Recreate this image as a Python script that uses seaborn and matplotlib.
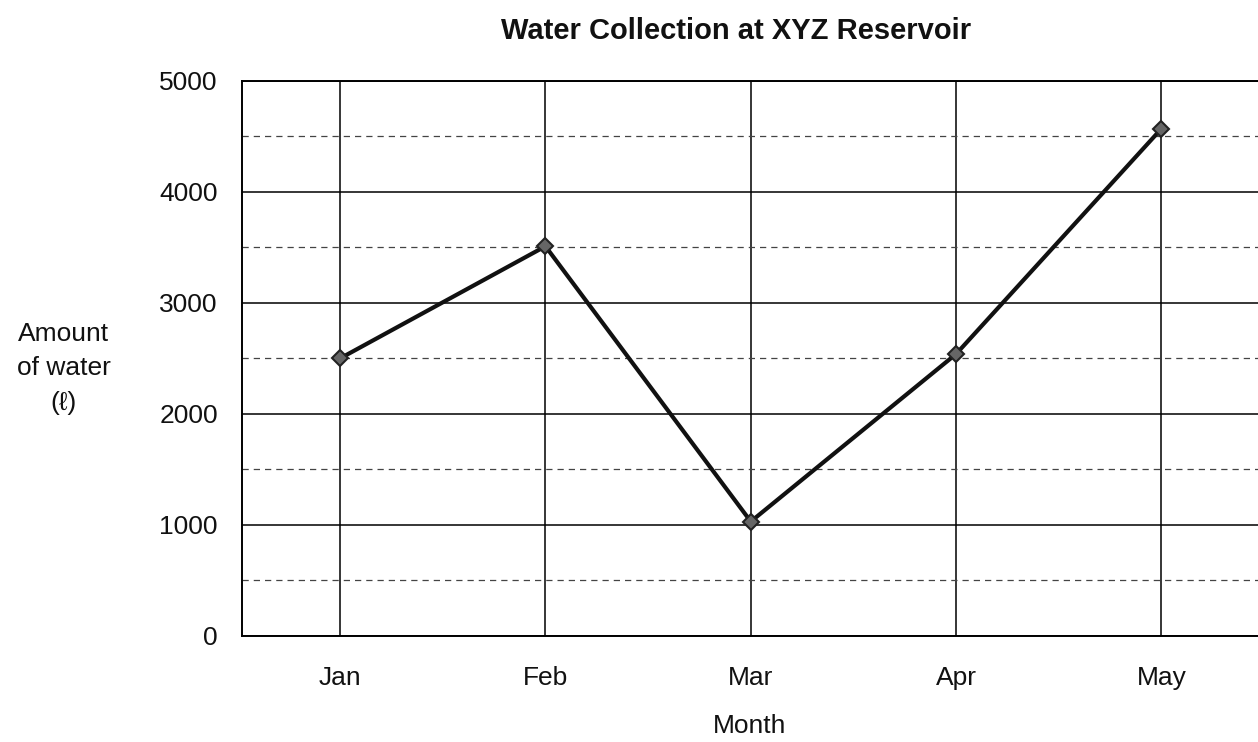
import matplotlib
matplotlib.use('Agg')
import matplotlib.pyplot as plt
import seaborn as sns
import pandas as pd
from matplotlib.ticker import MultipleLocator

# chart values
months = ['Jan', 'Feb', 'Mar', 'Apr', 'May']
water = [2500, 3510, 1030, 2540, 4570]
y_ticks = [0, 1000, 2000, 3000, 4000, 5000]

df = pd.DataFrame({'month': months, 'water': water})

sns.set_style('white')
plt.rcParams['font.family'] = ['Liberation Sans', 'DejaVu Sans']

fig = plt.figure(figsize=(12.58, 7.42), dpi=100)
ax = fig.add_axes([0.192, 0.143, 0.808, 0.748])

# grid first so the line sits on top
ax.set_axisbelow(True)
ax.yaxis.set_minor_locator(MultipleLocator(500))
ax.grid(True, which='major', axis='y', color='black', linewidth=1.1)
ax.grid(True, which='minor', axis='y', color='#444444', linewidth=0.9,
        linestyle=(0, (5, 4)))
ax.grid(True, which='major', axis='x', color='black', linewidth=1.1)

sns.lineplot(data=df, x='month', y='water', ax=ax, color='#111111',
             linewidth=3, marker='D', markersize=8,
             markerfacecolor='#666666', markeredgecolor='#222222',
             markeredgewidth=1.5, sort=False)

ax.set_xlim(-0.48, 4.47)
ax.set_ylim(0, 5000)
ax.set_yticks(y_ticks)
ax.set_yticklabels([str(v) for v in y_ticks])
ax.tick_params(axis='both', which='both', length=0, labelsize=19,
               labelcolor='#111111')
ax.tick_params(axis='x', pad=22)
ax.tick_params(axis='y', pad=17)

for side in ['left', 'bottom', 'top']:
    ax.spines[side].set_color('black')
    ax.spines[side].set_linewidth(1.4)
ax.spines['right'].set_visible(False)

ax.set_xlabel('Month', fontsize=19, labelpad=17, color='#111111')
ax.set_ylabel('Amount\nof water\n(ℓ)', fontsize=19, rotation=0,
              ha='center', va='center', linespacing=1.55, color='#111111')
ax.yaxis.set_label_coords(-0.175, 0.482)

fig.text(0.585, 0.958, 'Water Collection at XYZ Reservoir', ha='center',
         va='center', fontsize=21, fontweight='bold', color='#111111')

fig.savefig('out.png', dpi=100)
